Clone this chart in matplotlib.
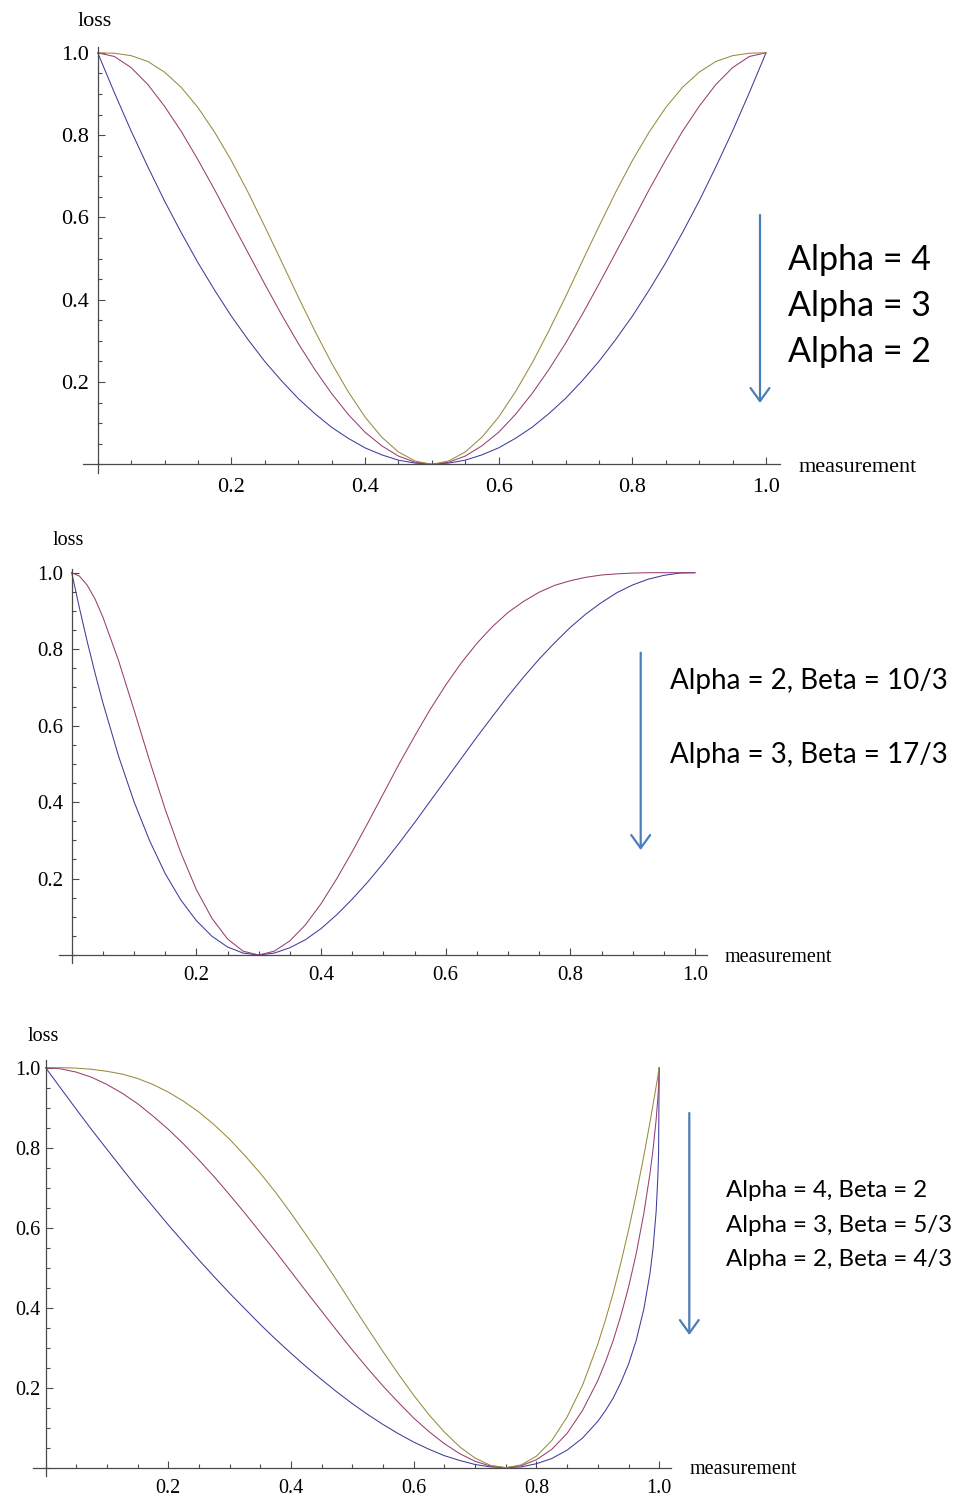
import matplotlib
matplotlib.use("Agg")
import matplotlib.pyplot as plt
from matplotlib.ticker import FixedLocator, MultipleLocator, FormatStrFormatter
from matplotlib.patches import FancyArrowPatch

W, H = 961, 1504

# ---- top panel: alpha = beta ----
x_top = [0, .025, .05, .075, .1, .125, .15, .175, .2, .225, .25, .275, .3, .325, .35, .375, .4, .425, .45, .475, .5,
         .525, .55, .575, .6, .625, .65, .675, .7, .725, .75, .775, .8, .825, .85, .875, .9, .925, .95, .975, 1]
top_a2 = [1, .903, .81, .723, .64, .563, .49, .423, .36, .303, .25, .203, .16, .123, .09, .063, .04, .023, .01, .003, 0,
          .003, .01, .023, .04, .063, .09, .123, .16, .203, .25, .303, .36, .423, .49, .563, .64, .723, .81, .903, 1]
top_a3 = [1, .991, .964, .923, .870, .809, .740, .667, .590, .514, .438, .364, .294, .230, .172, .121, .078, .045, .020, .005, 0,
          .005, .020, .045, .078, .121, .172, .230, .294, .364, .438, .514, .590, .667, .740, .809, .870, .923, .964, .991, 1]
top_a4 = [1, .999, .993, .979, .953, .916, .867, .807, .738, .661, .578, .493, .407, .324, .246, .176, .115, .066, .030, .008, 0,
          .008, .030, .066, .115, .176, .246, .324, .407, .493, .578, .661, .738, .807, .867, .916, .953, .979, .993, .999, 1]
top_labels = ["Alpha = 4", "Alpha = 3", "Alpha = 2"]

# ---- middle panel ----
x_mid = [0, .0125, .025, .0375, .05, .075, .1, .125, .15, .175, .2, .225, .25, .275, .3, .325, .35, .375, .4,
         .425, .45, .475, .5, .525, .55, .575, .6, .625, .65, .675, .7, .725, .75, .775, .8, .825, .85, .875,
         .9, .925, .95, .975, 1]
mid_a2 = [1, .907, .819, .737, .660, .521, .401, .299, .213, .144, .090, .049, .021, .005, 0, .005, .019, .040, .069,
          .105, .146, .191, .240, .292, .346, .402, .458, .514, .570, .624, .677, .727, .774, .817, .857, .892, .922, .948,
          .968, .983, .993, .999, 1]
mid_a3 = [1, .991, .967, .931, .884, .771, .641, .508, .381, .268, .171, .096, .042, .010, 0, .010, .037, .079, .134,
          .199, .270, .345, .422, .499, .572, .642, .706, .764, .815, .859, .896, .925, .949, .967, .979, .988, .994, .997,
          .999, 1, 1, 1, 1]
mid_labels = ["Alpha = 2, Beta = 10/3", "Alpha = 3, Beta = 17/3"]

# ---- bottom panel ----
x_bot = [0, .025, .05, .075, .1, .125, .15, .175, .2, .225, .25, .275, .3, .325, .35, .375, .4, .425, .45, .475,
         .5, .525, .55, .575, .6, .625, .65, .675, .7, .725, .75, .775, .8, .825, .85, .875, .9, .9125, .925,
         .9375, .95, .9625, .975, .985, .99, .995, .998, .999, 1]
bot_a2 = [1, .948, .896, .845, .796, .747, .699, .653, .607, .563, .519, .477, .436, .397, .358, .321, .286, .252, .220, .189,
          .160, .133, .108, .085, .064, .046, .030, .018, .008, .002, 0, .002, .010, .023, .044, .074, .116, .143, .174,
          .213, .259, .318, .397, .486, .549, .640, .734, .789, 1]
bot_a3 = [1, .997, .989, .976, .958, .936, .910, .879, .846, .809, .769, .727, .682, .636, .588, .540, .490, .440, .391, .342,
          .294, .248, .204, .163, .124, .090, .060, .035, .016, .004, 0, .005, .020, .046, .086, .143, .218, .265, .318,
          .380, .451, .535, .636, .736, .796, .870, .929, .955, 1]
bot_a4 = [1, 1, .999, .996, .991, .984, .973, .958, .939, .916, .889, .857, .821, .780, .736, .688, .636, .581, .525, .467,
          .407, .348, .290, .234, .181, .132, .089, .052, .024, .006, 0, .007, .029, .068, .127, .206, .309, .370, .437,
          .512, .594, .683, .780, .864, .908, .953, .981, .991, 1]
bot_labels = ["Alpha = 4, Beta = 2", "Alpha = 3, Beta = 5/3", "Alpha = 2, Beta = 4/3"]

major = [0.2, 0.4, 0.6, 0.8, 1.0]

blue = "#3d3d99"
purple = "#993d71"
olive = "#998b3d"
axis_col = "#4a4a4a"
arrow_col = "#4a7ebb"

plt.rcParams['font.family'] = ['Liberation Serif', 'DejaVu Serif']

fig = plt.figure(figsize=(W / 100, H / 100), dpi=100)


def make_axes(x0, x1, y0, y1, xlim, ylim):
    # x0/x1 = pixel column of data x=0/1, y0/y1 = pixel row of data y=0/1
    sx = x1 - x0
    sy = y0 - y1
    left = x0 + xlim[0] * sx
    right = x0 + xlim[1] * sx
    bottom = y0 - ylim[0] * sy
    top = y0 - ylim[1] * sy
    ax = fig.add_axes([left / W, 1 - bottom / H, (right - left) / W, (bottom - top) / H])
    ax.set_xlim(xlim)
    ax.set_ylim(ylim)
    ax.patch.set_visible(False)
    for s in ['top', 'right']:
        ax.spines[s].set_visible(False)
    for s in ['left', 'bottom']:
        ax.spines[s].set_position(('data', 0))
        ax.spines[s].set_color(axis_col)
        ax.spines[s].set_linewidth(0.9)
    for a in [ax.xaxis, ax.yaxis]:
        a.set_major_locator(FixedLocator(major))
        a.set_minor_locator(MultipleLocator(0.05))
        a.set_major_formatter(FormatStrFormatter('%.1f'))
    ax.tick_params(which='both', direction='in', color=axis_col, width=0.8)
    ax.tick_params(which='major', length=5)
    ax.tick_params(which='minor', length=3)
    return ax


def px(x, y):
    return x / W, 1 - y / H


def arrow(x, ytop, ybot):
    fig.add_artist(FancyArrowPatch(px(x, ytop), px(x, ybot), transform=fig.transFigure,
                                   arrowstyle='->,head_length=0.47,head_width=0.34', mutation_scale=20,
                                   color=arrow_col, lw=1.6, shrinkA=0, shrinkB=0))


# top
ax1 = make_axes(97.7, 766, 464.3, 52.8, (-0.022, 1.021), (-0.02, 1.015))
ax1.plot(x_top, top_a2, color=blue, lw=0.75)
ax1.plot(x_top, top_a3, color=purple, lw=0.75)
ax1.plot(x_top, top_a4, color=olive, lw=0.75)
ax1.tick_params(axis='x', labelsize=16, pad=10)
ax1.tick_params(axis='y', labelsize=16, pad=6)
fig.text(*px(78, 26), "loss", fontsize=16, va='baseline')
fig.text(*px(799, 472), "measurement", fontsize=16, va='baseline')
arrow(760, 215, 403)
for i, s in enumerate(top_labels):
    fig.text(*px(788, 270 + 46 * i), s, fontsize=24.5, family='Lato', va='baseline')

# middle
ax2 = make_axes(71.7, 695, 955, 572.7, (-0.02, 1.0195), (-0.02, 1.01))
ax2.plot(x_mid, mid_a2, color=blue, lw=0.75)
ax2.plot(x_mid, mid_a3, color=purple, lw=0.75)
ax2.tick_params(axis='x', labelsize=15, pad=8)
ax2.tick_params(axis='y', labelsize=15, pad=6)
fig.text(*px(53, 545), "loss", fontsize=14.5, va='baseline')
fig.text(*px(725, 962), "measurement", fontsize=14.5, va='baseline')
arrow(640.7, 652.7, 850)
for i, s in enumerate(mid_labels):
    fig.text(*px(670, 689 + 74 * i), s, fontsize=20, family='Lato', va='baseline')

# bottom
ax3 = make_axes(45.6, 659.2, 1467.7, 1067.7, (-0.02, 1.0195), (-0.02, 1.019))
ax3.plot(x_bot, bot_a2, color=blue, lw=0.75)
ax3.plot(x_bot, bot_a3, color=purple, lw=0.75)
ax3.plot(x_bot, bot_a4, color=olive, lw=0.75)
ax3.tick_params(axis='x', labelsize=14.5, pad=8)
ax3.tick_params(axis='y', labelsize=14.5, pad=4)
fig.text(*px(27.7, 1040.7), "loss", fontsize=14.5, va='baseline')
fig.text(*px(689.3, 1474), "measurement", fontsize=14.5, va='baseline')
arrow(689.3, 1113, 1335)
for i, s in enumerate(bot_labels):
    fig.text(*px(726, 1197 + 34.5 * i), s, fontsize=17.3, family='Lato', va='baseline')

fig.savefig("out.png", dpi=100)
